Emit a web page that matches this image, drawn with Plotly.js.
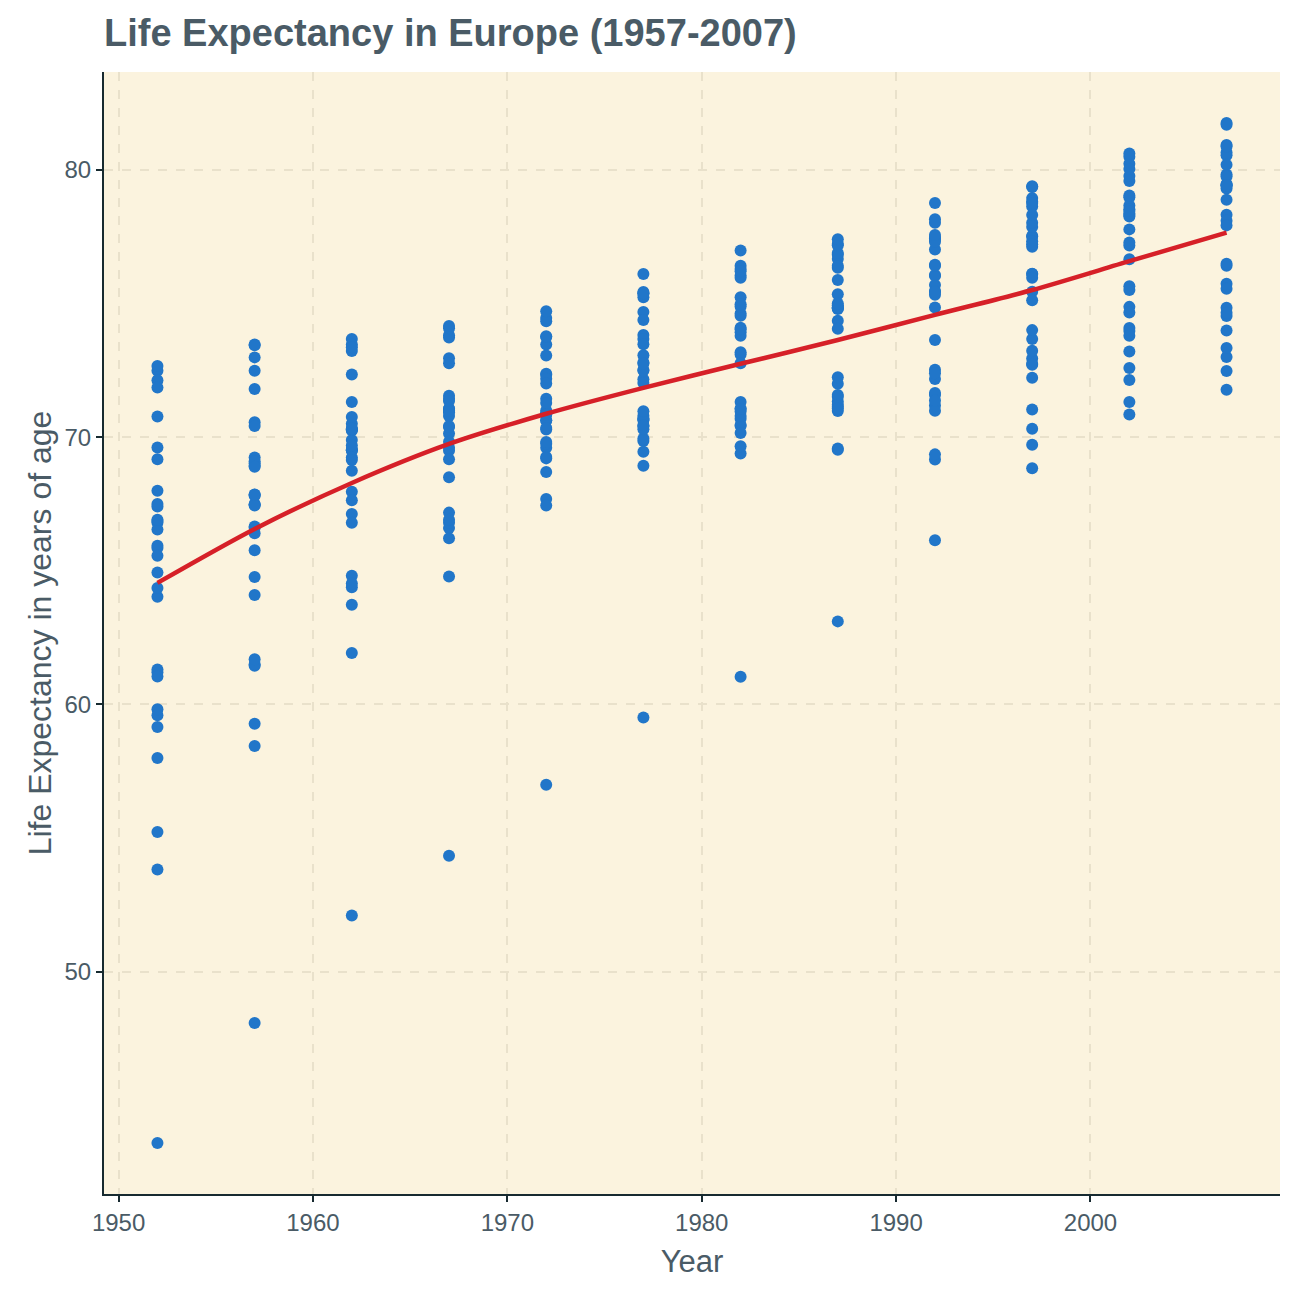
<!DOCTYPE html>
<html>
<head>
<meta charset="utf-8">
<script src="https://cdn.plot.ly/plotly-3.0.1.min.js"></script>
<style>
  body { margin: 0; background: #ffffff; }
  #chart { width: 1296px; height: 1296px; }
</style>
</head>
<body>
<div id="chart"></div>
<script>
// Gapminder Europe: life expectancy per country, one array per survey year
const years = [1952, 1957, 1962, 1967, 1972, 1977, 1982, 1987, 1992, 1997, 2002, 2007];

const life1952 = [55.23, 66.8, 68.0, 53.82, 59.6, 61.21, 66.87, 70.78, 66.55, 67.41, 67.5, 65.86, 64.03, 72.49, 66.91, 65.94, 59.16, 72.13, 72.67, 61.31, 59.82, 61.05, 58.0, 64.36, 65.57, 64.94, 71.86, 69.62, 43.59, 69.18];
const life1957 = [59.28, 67.48, 69.24, 58.45, 66.61, 64.77, 69.03, 71.81, 67.49, 68.93, 69.1, 67.86, 66.41, 73.47, 68.9, 67.81, 61.45, 72.99, 73.44, 65.77, 61.51, 64.1, 61.69, 67.45, 67.85, 66.66, 72.49, 70.56, 48.08, 70.42];
const life1962 = [64.82, 69.54, 70.25, 61.93, 69.51, 67.13, 69.9, 72.35, 68.75, 70.51, 70.3, 69.51, 67.96, 73.68, 70.29, 69.24, 63.73, 73.23, 73.47, 67.64, 64.39, 66.8, 64.53, 70.33, 69.15, 69.69, 73.37, 71.32, 52.1, 70.76];
const life1967 = [66.22, 70.14, 70.94, 64.79, 70.42, 68.5, 70.38, 72.96, 69.83, 71.55, 70.8, 71.0, 69.5, 73.73, 71.08, 71.06, 67.18, 73.82, 74.08, 69.61, 66.6, 66.8, 66.91, 70.98, 69.18, 71.44, 74.16, 72.77, 54.34, 71.36];
const life1972 = [67.69, 70.63, 71.44, 67.45, 70.9, 69.61, 70.29, 73.47, 70.87, 72.38, 71.0, 72.34, 69.76, 74.46, 71.28, 72.19, 70.64, 73.75, 74.34, 70.85, 69.26, 69.21, 68.7, 70.35, 69.82, 73.06, 74.72, 73.78, 57.0, 72.01];
const life1977 = [68.93, 72.17, 72.8, 69.86, 70.81, 70.64, 70.71, 74.69, 72.52, 73.83, 72.5, 73.68, 69.95, 76.11, 72.03, 73.48, 73.07, 75.24, 75.37, 70.67, 70.41, 69.46, 70.3, 70.45, 70.97, 74.39, 75.44, 75.39, 59.51, 72.76];
const life1982 = [70.42, 73.18, 73.93, 70.69, 71.08, 70.46, 70.96, 74.63, 74.55, 74.89, 73.8, 75.24, 69.39, 76.99, 73.1, 74.98, 74.1, 76.05, 75.97, 71.32, 72.77, 69.66, 70.16, 70.8, 71.06, 76.3, 76.42, 76.21, 61.04, 74.04];
const life1987 = [72.0, 74.94, 75.35, 71.14, 71.34, 71.52, 71.58, 74.8, 74.83, 76.34, 74.85, 76.67, 69.58, 77.23, 74.36, 76.42, 74.87, 76.83, 75.89, 70.98, 74.06, 69.53, 71.22, 71.08, 72.25, 76.9, 77.19, 77.41, 63.11, 75.01];
const life1992 = [71.58, 76.04, 76.46, 72.18, 71.19, 72.53, 72.4, 75.33, 75.7, 77.46, 76.07, 77.03, 69.17, 78.77, 75.47, 77.44, 75.44, 77.42, 77.32, 70.99, 74.86, 69.36, 71.66, 71.38, 73.64, 77.57, 78.16, 78.03, 66.15, 76.42];
const life1997 = [72.95, 77.51, 77.53, 73.24, 70.32, 73.68, 74.01, 76.11, 77.13, 78.64, 77.34, 77.87, 71.04, 78.95, 76.12, 78.82, 75.45, 78.03, 78.32, 72.75, 75.97, 69.72, 72.23, 72.71, 75.13, 78.77, 79.39, 79.37, 68.84, 77.22];
const life2002 = [75.65, 78.98, 78.32, 74.09, 72.14, 74.88, 75.51, 77.18, 78.37, 79.59, 78.67, 78.26, 72.59, 80.5, 77.78, 80.24, 73.98, 78.53, 79.05, 74.67, 77.29, 71.32, 73.21, 73.8, 76.66, 79.78, 80.04, 80.62, 70.85, 78.47];
const life2007 = [76.42, 79.83, 79.44, 74.85, 73.0, 75.75, 76.49, 78.33, 79.31, 80.66, 79.41, 79.48, 73.34, 81.76, 78.89, 80.55, 74.54, 79.76, 80.2, 75.56, 78.1, 72.48, 74.0, 74.66, 77.93, 80.94, 80.88, 81.7, 71.78, 79.43];

const lifeByYear = [life1952, life1957, life1962, life1967, life1972, life1977,
                    life1982, life1987, life1992, life1997, life2002, life2007];

// Smoothed trend at each survey year
const trendYears = years;
const trendValues = [64.55, 66.57, 68.29, 69.75, 70.88, 71.85, 72.75, 73.64, 74.58, 75.51, 76.59, 77.66];

const xTicks = [1950, 1960, 1970, 1980, 1990, 2000];
const yTicks = [50, 60, 70, 80];

const COLORS = {
  point: '#2176C9',
  trend: '#D62028',
  panel: '#FBF3DE',
  grid: '#E9E1CB',
  axis: '#172A30',
  text: '#4A5B66'
};

const FONT = 'Liberation Sans, Arial, sans-serif';

function buildChart() {
  const ptsX = [];
  const ptsY = [];
  lifeByYear.forEach((vals, i) => {
    vals.forEach(v => {
      ptsX.push(years[i]);
      ptsY.push(v);
    });
  });

  const data = [
    {
      x: ptsX,
      y: ptsY,
      type: 'scatter',
      mode: 'markers',
      marker: { color: COLORS.point, size: 12, line: { width: 0 } },
      hoverinfo: 'x+y'
    },
    {
      x: trendYears,
      y: trendValues,
      type: 'scatter',
      mode: 'lines',
      line: { color: COLORS.trend, width: 4.5, shape: 'spline', smoothing: 0.8 },
      hoverinfo: 'skip'
    }
  ];

  const axisCommon = {
    showline: true,
    linecolor: COLORS.axis,
    linewidth: 2,
    ticks: 'outside',
    ticklen: 6,
    tickwidth: 2,
    tickcolor: COLORS.axis,
    tickfont: { family: FONT, size: 24, color: COLORS.text },
    showgrid: true,
    gridcolor: COLORS.grid,
    gridwidth: 2,
    griddash: 'dash',
    zeroline: false,
    mirror: false
  };

  const layout = {
    width: 1296,
    height: 1296,
    margin: { l: 104, r: 16, t: 72, b: 102 },
    paper_bgcolor: '#ffffff',
    plot_bgcolor: COLORS.panel,
    showlegend: false,
    title: {
      text: '<b>Life Expectancy in Europe (1957-2007)</b>',
      font: { family: FONT, size: 38, color: COLORS.text },
      xref: 'container',
      x: 104 / 1296,
      xanchor: 'left',
      yref: 'container',
      y: 1 - 33 / 1296,
      yanchor: 'middle'
    },
    xaxis: Object.assign({}, axisCommon, {
      range: [1949.25, 2009.75],
      tickvals: xTicks,
      ticktext: xTicks.map(String),
      title: { text: 'Year', font: { family: FONT, size: 31, color: COLORS.text }, standoff: 16 }
    }),
    yaxis: Object.assign({}, axisCommon, {
      range: [41.68, 83.67],
      tickvals: yTicks,
      ticktext: yTicks.map(String),
      title: { text: 'Life Expectancy in years of age', font: { family: FONT, size: 32, color: COLORS.text }, standoff: 3 }
    })
  };

  Plotly.newPlot('chart', data, layout, { displayModeBar: false, responsive: false });
}

buildChart();
</script>
</body>
</html>
